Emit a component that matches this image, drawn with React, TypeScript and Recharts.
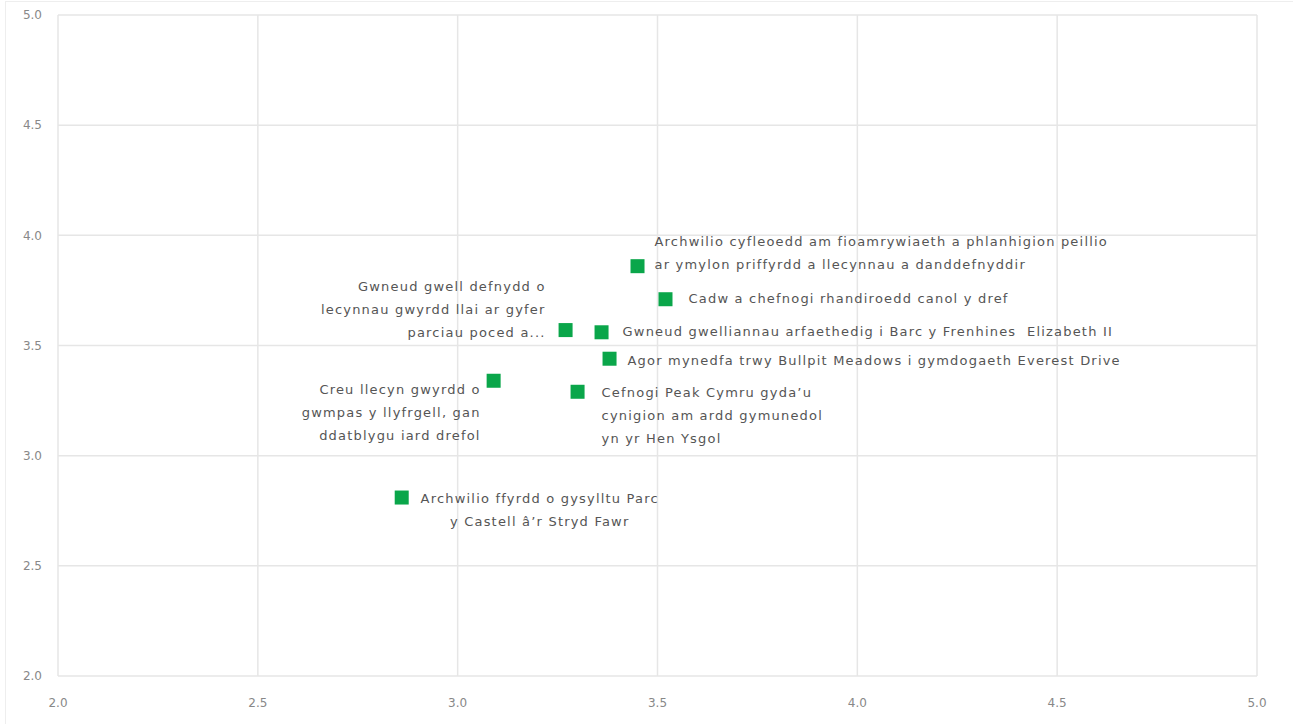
import React from 'react';
import { ScatterChart, Scatter, XAxis, YAxis, CartesianGrid } from 'recharts';

const projectNames = [
  ['Archwilio ffyrdd o gysylltu Parc', 'y Castell â\u2019r Stryd Fawr'],
  ['Creu llecyn gwyrdd o', 'gwmpas y llyfrgell, gan', 'ddatblygu iard drefol'],
  ['Gwneud gwell defnydd o', 'lecynnau gwyrdd llai ar gyfer', 'parciau poced a...'],
  ['Cefnogi Peak Cymru gyda\u2019u', 'cynigion am ardd gymunedol', 'yn yr Hen Ysgol'],
  ['Gwneud gwelliannau arfaethedig i Barc y Frenhines  Elizabeth II'],
  ['Agor mynedfa trwy Bullpit Meadows i gymdogaeth Everest Drive'],
  ['Archwilio cyfleoedd am fioamrywiaeth a phlanhigion peillio', 'ar ymylon priffyrdd a llecynnau a danddefnyddir'],
  ['Cadw a chefnogi rhandiroedd canol y dref'],
];
const xValues = [2.86, 3.09, 3.27, 3.30, 3.36, 3.38, 3.45, 3.52];
const yValues = [2.81, 3.34, 3.57, 3.29, 3.56, 3.44, 3.86, 3.71];
const ticks = [2.0, 2.5, 3.0, 3.5, 4.0, 4.5, 5.0];

// label placement per point: anchor, x offset, y offset of first line
const labelPlacement = [
  { anchor: 'middle', dx: 138, dy: 0 },
  { anchor: 'end', dx: -13, dy: 8 },
  { anchor: 'end', dx: -20, dy: -44 },
  { anchor: 'start', dx: 24, dy: 0 },
  { anchor: 'start', dx: 21, dy: -1 },
  { anchor: 'start', dx: 18, dy: 1 },
  { anchor: 'start', dx: 17, dy: -25 },
  { anchor: 'start', dx: 23, dy: -1 },
];

const points = xValues.map((x, i) => ({ x, y: yValues[i], idx: i }));

const FONT = '"DejaVu Sans", sans-serif';
const GREEN = '#0aa64a';

const SquareWithLabel = (props: any) => {
  const { cx, cy, payload } = props;
  const lines = projectNames[payload.idx];
  const p = labelPlacement[payload.idx];
  return (
    <g>
      <rect x={cx - 7} y={cy - 7} width={14} height={14} fill={GREEN} />
      <text
        x={cx + p.dx}
        y={cy + p.dy}
        textAnchor={p.anchor}
        dominantBaseline="central"
        fill="#555"
        fontSize={13}
        letterSpacing={1.2}
        fontFamily={FONT}
      >
        {lines.map((line: string, i: number) => (
          <tspan key={i} x={cx + p.dx} dy={i === 0 ? 0 : 23} style={{ whiteSpace: 'pre' }}>
            {line}
          </tspan>
        ))}
      </text>
    </g>
  );
};

export default function App() {
  return (
    <div style={{ position: 'absolute', left: 0, top: 0, width: 1293, height: 724, background: '#fff' }}>
      <div style={{ position: 'absolute', left: 5, top: 1, right: 0, bottom: 0, borderTop: '1px solid #eee', borderLeft: '1px solid #eee' }} />
      <ScatterChart width={1293} height={724} margin={{ top: 15, right: 36, bottom: 0, left: 0 }}>
        <CartesianGrid stroke="#e6e6e6" strokeWidth={1.5} />
        <XAxis
          type="number"
          dataKey="x"
          domain={[2, 5]}
          ticks={ticks}
          tickFormatter={(v: number) => v.toFixed(1)}
          axisLine={false}
          tickLine={false}
          tickMargin={16}
          height={48}
          tick={{ fill: '#888', fontSize: 12, fontFamily: FONT }}
        />
        <YAxis
          type="number"
          dataKey="y"
          domain={[2, 5]}
          ticks={ticks}
          tickFormatter={(v: number) => v.toFixed(1)}
          axisLine={false}
          tickLine={false}
          tickMargin={10}
          width={58}
          tick={{ fill: '#888', fontSize: 12, fontFamily: FONT }}
        />
        <Scatter data={points} shape={<SquareWithLabel />} isAnimationActive={false} />
      </ScatterChart>
    </div>
  );
}
